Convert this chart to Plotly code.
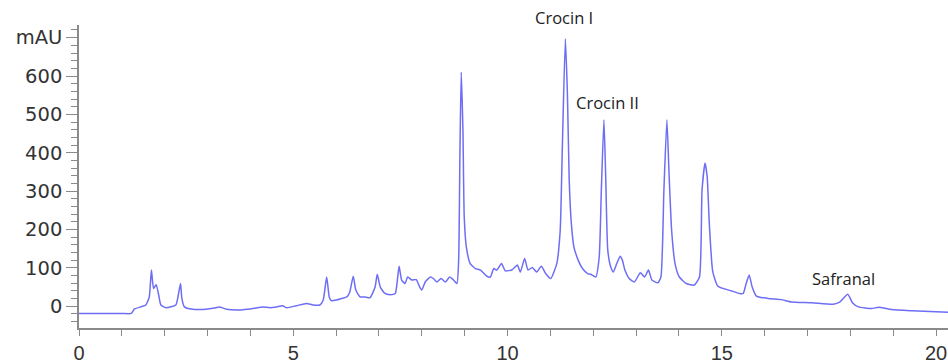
import plotly.graph_objects as go

# Retention time (min) and absorbance (mAU)
time_min = [
    0.0, 1.0, 1.22, 1.29, 1.44, 1.56, 1.64, 1.69, 1.74, 1.8, 1.86, 1.91, 2.03,
    2.26, 2.33, 2.37, 2.4, 2.46, 2.65, 2.97, 3.15, 3.28, 3.44, 3.75, 4.06, 4.29,
    4.45, 4.61, 4.75, 4.84, 5.07, 5.31, 5.46, 5.62, 5.70, 5.78, 5.84, 5.89, 6.01,
    6.13, 6.25, 6.32, 6.40, 6.46, 6.56, 6.67, 6.79, 6.91, 6.96, 7.03, 7.14, 7.26,
    7.38, 7.43, 7.47, 7.53, 7.61, 7.67, 7.77, 7.87, 7.95, 8.0, 8.08, 8.2, 8.27,
    8.35, 8.45, 8.55, 8.65, 8.74, 8.82, 8.86, 8.89, 8.92, 8.96, 8.99, 9.04, 9.13,
    9.25, 9.37, 9.52, 9.6, 9.68, 9.75, 9.86, 9.95, 10.11, 10.23, 10.3, 10.4,
    10.48, 10.58, 10.68, 10.79, 10.89, 11.01, 11.15, 11.23, 11.28, 11.35, 11.4,
    11.44, 11.49, 11.55, 11.65, 11.75, 11.87, 11.94, 12.06, 12.14, 12.19, 12.25,
    12.29, 12.34, 12.41, 12.47, 12.55, 12.63, 12.68, 12.74, 12.84, 12.96, 13.1,
    13.2, 13.29, 13.37, 13.51, 13.58, 13.65, 13.72, 13.77, 13.83, 13.91, 14.01,
    14.17, 14.36, 14.48, 14.54, 14.61, 14.66, 14.71, 14.79, 14.91, 15.22, 15.42,
    15.5, 15.57, 15.64, 15.71, 15.81, 16.08, 16.39, 16.63, 17.1, 17.6, 17.76,
    17.94, 18.05, 18.19, 18.5, 18.66, 18.97, 19.44, 20.28,
]
absorbance_mau = [
    -19, -19, -19, -8, -2, 3, 24, 94, 46, 56, 29, 3, -4,
    3, 37, 59, 20, -2, -8, -8, -5, -2, -8, -10, -6, -2,
    -4, -2, 1, -4, 1, 7, 3, 3, 16, 76, 24, 14, 16,
    20, 24, 37, 78, 42, 24, 24, 22, 50, 83, 50, 33, 30,
    33, 68, 104, 68, 59, 76, 68, 69, 50, 42, 63, 76, 72,
    63, 72, 63, 76, 68, 59, 120, 400, 610, 458, 233, 154, 111,
    98, 94, 78, 76, 98, 94, 111, 92, 95, 107, 89, 124,
    94, 101, 89, 104, 85, 72, 111, 198, 415, 697, 545,
    328, 215, 154, 120, 98, 85, 83, 76, 128, 302, 486,
    345, 146, 102, 89, 111, 130, 120, 94, 72, 63, 87,
    76, 94, 68, 61, 76, 302, 486, 345, 198, 111, 76,
    59, 55, 76, 302, 373, 337, 215, 90, 52, 40, 33,
    33, 59, 81, 50, 26, 20, 17, 11, 9, 5, 11,
    31, 9, -2, -6, -3, -9, -12, -16,
]

# Axis ticks
y_tick_vals = [0, 100, 200, 300, 400, 500, 600, 700]
y_tick_text = ["0", "100", "200", "300", "400", "500", "600", "mAU"]
x_tick_vals = [0, 5, 10, 15, 20]

# Peak labels (x in minutes, y in paper fraction so labels above the axis top still show)
peak_names = ["Crocin I", "Crocin II", "Safranal"]
peak_label_x = [11.31, 12.34, 17.85]
peak_label_y = [1.025, 0.745, 0.165]

fig = go.Figure()
fig.add_trace(go.Scatter(
    x=time_min, y=absorbance_mau, mode="lines",
    line=dict(color="rgb(110,110,245)", width=1.5, shape="spline", smoothing=0.5),
    hoverinfo="x+y", showlegend=False,
))

for name, lx, ly in zip(peak_names, peak_label_x, peak_label_y):
    fig.add_annotation(x=lx, y=ly, xref="x", yref="paper", text=name, showarrow=False,
                       font=dict(family="Open Sans", size=16.5, color="#222"),
                       xanchor="center", yanchor="middle")

axis_color = "#8a8a8a"
fig.update_xaxes(
    range=[0, 20.28], tickvals=x_tick_vals, ticks="outside", ticklen=6,
    tickcolor=axis_color, showline=True, linecolor=axis_color, linewidth=1.5,
    showgrid=False, zeroline=False,
    minor=dict(dtick=1, ticks="outside", ticklen=6, tickcolor=axis_color, showgrid=False),
    tickfont=dict(family="Liberation Sans, Arial", size=20, color="#333"),
)
fig.update_yaxes(
    range=[-57, 733], tickvals=y_tick_vals, ticktext=y_tick_text,
    ticks="outside", ticklen=11, tickcolor=axis_color,
    showline=True, linecolor=axis_color, linewidth=1.5,
    showgrid=False, zeroline=False,
    minor=dict(dtick=20, ticks="outside", ticklen=6, tickcolor=axis_color, showgrid=False),
    tickfont=dict(family="DejaVu Sans", size=19.5, color="#333"),
)
fig.update_layout(
    width=948, height=363,
    margin=dict(l=79, r=0, t=25, b=35),
    plot_bgcolor="white", paper_bgcolor="white",
)
fig.write_html("out.html")
